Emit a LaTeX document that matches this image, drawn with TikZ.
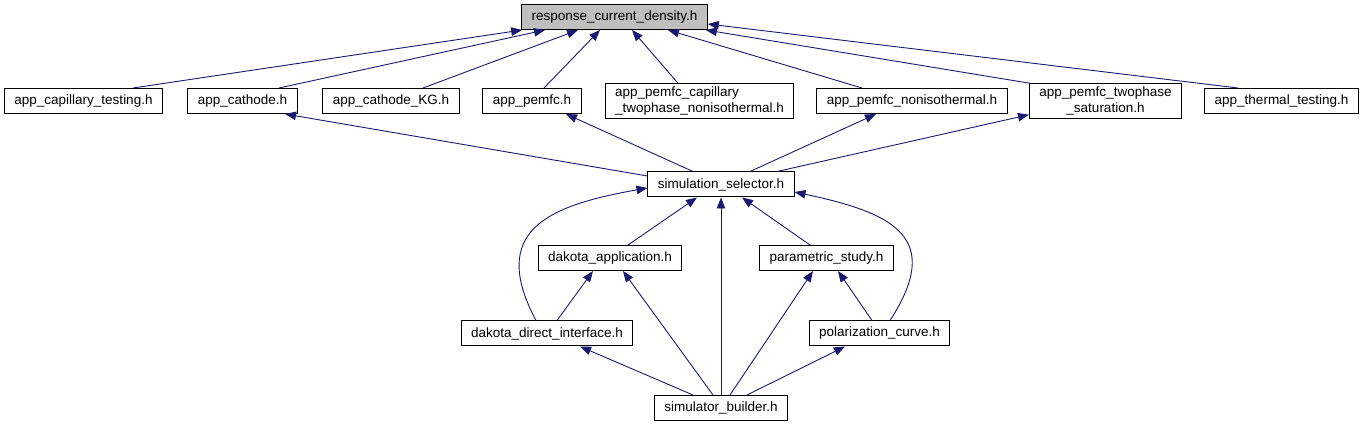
\documentclass[tikz,border=0pt]{standalone}
\usepackage{fontspec}
\setmainfont{Liberation Sans}
\usetikzlibrary{arrows.meta}
\definecolor{edgeblue}{HTML}{191970}
\definecolor{topgray}{HTML}{BFBFBF}

\begin{document}
\begin{tikzpicture}[x=1pt,y=-1pt,
	file/.style={draw=black, line width=1pt, fill=white, minimum height=25pt,
		inner xsep=10pt, inner ysep=3pt, font=\fontsize{13.5}{16}\selectfont},
	dep/.style={draw=edgeblue, line width=0.9pt,
		-{Triangle[length=11pt,width=8.5pt]}}]
		
		\useasboundingbox (0,0) rectangle (1361,427);
		
		% Header under inspection
		\node[file, fill=topgray] (resp) at (614.5,17) {response\_current\_density.h};
		
		% Applications
		\node[file] (capt) at (83.5,101) {app\_capillary\_testing.h};
		\node[file] (cath) at (242.5,101) {app\_cathode.h};
		\node[file] (cathkg) at (391,101) {app\_cathode\_KG.h};
		\node[file] (pemfc) at (532,101) {app\_pemfc.h};
		\node[file, align=left] (capnon) at (699.5,101) {app\_pemfc\_capillary\\\_twophase\_nonisothermal.h};
		\node[file] (pemnon) at (912,101) {app\_pemfc\_nonisothermal.h};
		\node[file, align=center] (twosat) at (1105.5,101) {app\_pemfc\_twophase\\\_saturation.h};
		\node[file] (thermal) at (1281.5,101) {app\_thermal\_testing.h};
		
		% Selector and its users
		\node[file] (simsel) at (721,184.5) {simulation\_selector.h};
		\node[file] (dakapp) at (610,258) {dakota\_application.h};
		\node[file] (parst) at (826.5,258) {parametric\_study.h};
		\node[file] (dakdir) at (547,333.5) {dakota\_direct\_interface.h};
		\node[file] (polcur) at (879.5,333.5) {polarization\_curve.h};
		\node[file] (simbld) at (721,408) {simulator\_builder.h};
		
		% Includes of response_current_density.h
		\draw[dep] ([xshift=49.5pt]capt.north) -- ([xshift=1pt]resp.south west);
		\draw[dep] ([xshift=36.5pt]cath.north) -- ([xshift=-69.5pt]resp.south);
		\draw[dep] ([xshift=32pt]cathkg.north) -- ([xshift=-36.5pt]resp.south);
		\draw[dep] ([xshift=12pt]pemfc.north) -- ([xshift=-14.5pt]resp.south);
		\draw[dep] ([xshift=-21.5pt]capnon.north) -- ([xshift=17.5pt]resp.south);
		\draw[dep] ([xshift=-50pt]pemnon.north) -- ([xshift=53.5pt]resp.south);
		\draw[dep] ([xshift=1pt]twosat.north west) -- ([xshift=-2pt]resp.south east);
		\draw[dep] ([xshift=-43.5pt]thermal.north) -- ([yshift=-7pt]resp.east);
		
		% Includes of the applications
		\draw[dep] ([yshift=8.5pt]simsel.west) -- ([xshift=42.5pt]cath.south);
		\draw[dep] ([xshift=-28pt]simsel.north) -- ([xshift=34pt]pemfc.south);
		\draw[dep] ([xshift=29pt]simsel.north) -- ([xshift=-36pt]pemnon.south);
		\draw[dep] ([xshift=56pt]simsel.north) -- ([yshift=4pt]twosat.south west);
		
		% Includes of simulation_selector.h
		\draw[dep] ([xshift=18pt]dakapp.north) -- ([xshift=-24pt]simsel.south);
		\draw[dep] (simbld.north) -- (simsel.south);
		\draw[dep] ([xshift=-16.5pt]parst.north) -- ([xshift=21pt]simsel.south);
		\draw[dep] ([xshift=-11pt]dakdir.north) to[out=118, in=190, looseness=1.5] ([yshift=-3.5pt]simsel.west);
		\draw[dep] ([xshift=10.5pt]polcur.north) to[out=57, in=-12, looseness=1.6] ([yshift=-7.5pt]simsel.east);
		
		% Lower levels
		\draw[dep] ([xshift=10pt]dakdir.north) -- ([xshift=-17pt]dakapp.south);
		\draw[dep] ([xshift=-8pt]simbld.north) -- ([xshift=13pt]dakapp.south);
		\draw[dep] ([xshift=9pt]simbld.north) -- ([xshift=-13.5pt]parst.south);
		\draw[dep] ([xshift=-7.5pt]polcur.north) -- ([xshift=11.5pt]parst.south);
		\draw[dep] ([xshift=-28pt]simbld.north) -- ([xshift=33pt]dakdir.south);
		\draw[dep] ([xshift=26pt]simbld.north) -- ([xshift=-34.5pt]polcur.south);
		
	\end{tikzpicture}
\end{document}
